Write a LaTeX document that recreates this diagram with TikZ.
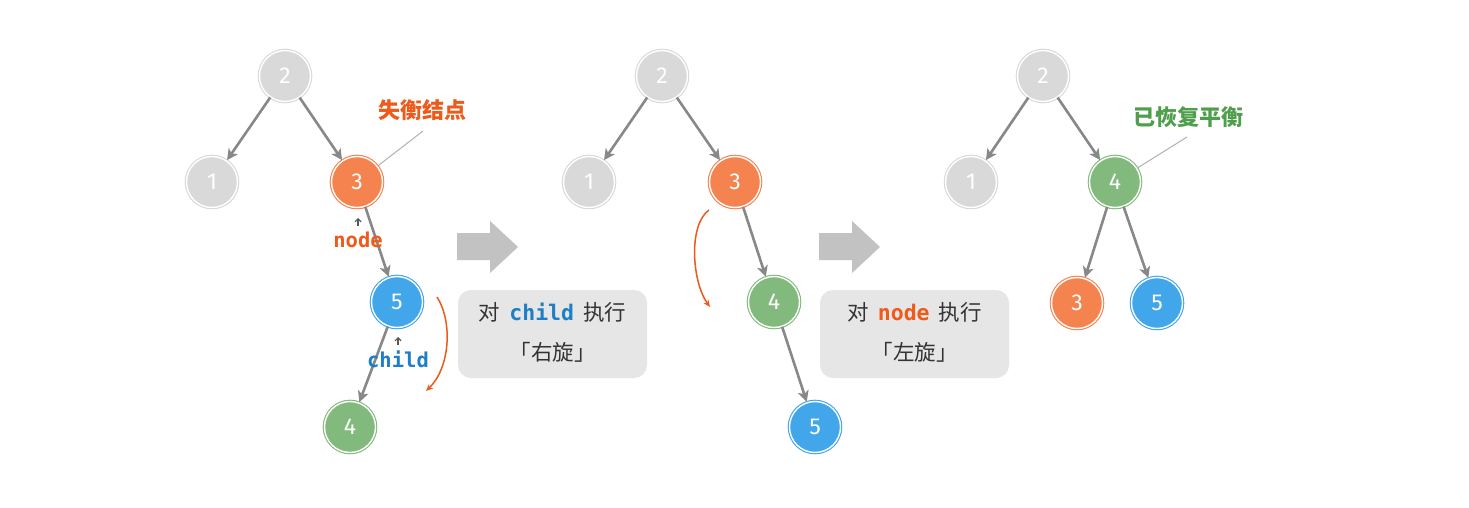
\documentclass[tikz,border=0pt]{standalone}
\usepackage{fontspec}
\setmainfont{Fira Sans}
\setmonofont{DejaVu Sans Mono}
\newfontfamily\cjk{Noto Sans CJK SC}
\usetikzlibrary{arrows.meta}
\definecolor{cgray}{HTML}{D9D9D9}
\definecolor{corange}{HTML}{F5834F}
\definecolor{cblue}{HTML}{42A6EA}
\definecolor{cgreen}{HTML}{82BA7D}
\definecolor{edgec}{HTML}{888888}
\definecolor{lorange}{HTML}{EE5A1A}
\definecolor{lgreen}{HTML}{4E9E4C}
\definecolor{lblue}{HTML}{1E7FC6}
\definecolor{boxc}{HTML}{E6E6E6}
\definecolor{bigarrow}{HTML}{C2C2C2}
\tikzset{
  tnode/.style={circle, minimum size=51pt, inner sep=0pt, fill=#1, draw=#1, double=white, double distance=1.4pt, line width=1.1pt, text=white, font=\fontsize{23}{23}\selectfont},
  edge/.style={draw=edgec, line width=2.6pt, -{Stealth[length=11pt,width=11pt,inset=3pt]}, shorten >=0.5pt},
  leader/.style={draw=gray!60, line width=1pt},
  rot/.style={draw=lorange, line width=1.5pt, -{Stealth[length=7pt,width=6pt]}},
  caret/.style={draw=gray!70!black, line width=1.2pt, -{Straight Barb[length=3pt,width=6pt]}},
  opbox/.style={fill=boxc, rounded corners=13pt, draw=none},
  boxtext/.style={text=black!80, font=\fontsize{21.5}{21.5}\selectfont\cjk},
  lab/.style={font=\fontsize{22}{22}\selectfont\cjk\bfseries},
  codelab/.style={font=\fontsize{20.5}{20.5}\selectfont\ttfamily\bfseries}
}
\begin{document}
\begin{tikzpicture}[x=1pt,y=-1pt]
\useasboundingbox[fill=white] (0,0) rectangle (1469,508);
% ---- tree 1
\node[tnode=cgray] (a2) at (285,76) {2};
\node[tnode=cgray] (a1) at (212,182) {1};
\node[tnode=corange] (a3) at (357,182) {3};
\node[tnode=cblue] (a5) at (397,302) {5};
\node[tnode=cgreen] (a4) at (350,427) {4};
\draw[edge] (a2) -- (a1);
\draw[edge] (a2) -- (a3);
\draw[edge] (a3) -- (a5);
\draw[edge] (a5) -- (a4);
\node[lab, text=lorange] (la) at (422,110) {失衡结点};
\coordinate (la0) at (423,131);
\draw[leader] (la0) -- (a3);
\node[codelab, text=lorange] (nodelab) at (358,240) {node};
\coordinate (c1a) at (358,226);
\coordinate (c1b) at (358,218);
\draw[caret] (c1a) -- (c1b);
\node[codelab, text=lblue] (childlab) at (398,359) {child};
\coordinate (c2a) at (398,345);
\coordinate (c2b) at (398,337);
\draw[caret] (c2a) -- (c2b);
\coordinate (r1s) at (437,297);
\coordinate (r1e) at (426,391);
\draw[rot] (r1s) .. controls (453,322) and (450,368) .. (r1e);
% ---- arrow + box 1
\fill[bigarrow] (457,233) -- (490,233) -- (490,221) -- (518,247) -- (490,273) -- (490,260) -- (457,260) -- cycle;
\draw[opbox] (458,290) rectangle (647,378);
\node[boxtext] (b1a) at (552.5,312) {对\hspace{9pt}{\ttfamily\bfseries\color{lblue}child}\hspace{9pt}执行};
\node[boxtext] (b1b) at (552.5,352) {「右旋」};
% ---- tree 2
\node[tnode=cgray] (b2) at (662,76) {2};
\node[tnode=cgray] (b1) at (589,182) {1};
\node[tnode=corange] (b3) at (735,182) {3};
\node[tnode=cgreen] (b4) at (774,302) {4};
\node[tnode=cblue] (b5) at (815,427) {5};
\draw[edge] (b2) -- (b1);
\draw[edge] (b2) -- (b3);
\draw[edge] (b3) -- (b4);
\draw[edge] (b4) -- (b5);
\coordinate (r2s) at (709,210);
\coordinate (r2e) at (710,307);
\draw[rot] (r2s) .. controls (688,225) and (692,282) .. (r2e);
% ---- arrow + box 2
\fill[bigarrow] (819,233) -- (852,233) -- (852,221) -- (880,247) -- (852,273) -- (852,260) -- (819,260) -- cycle;
\draw[opbox] (820,290) rectangle (1009,378);
\node[boxtext] (b2a) at (914.5,312) {对\hspace{9pt}{\ttfamily\bfseries\color{lorange}node}\hspace{9pt}执行};
\node[boxtext] (b2b) at (914.5,352) {「左旋」};
% ---- tree 3
\node[tnode=cgray] (c2) at (1043,76) {2};
\node[tnode=cgray] (c1) at (971,182) {1};
\node[tnode=cgreen] (c4) at (1115,182) {4};
\node[tnode=corange] (c3) at (1077,303) {3};
\node[tnode=cblue] (c5) at (1157,303) {5};
\draw[edge] (c2) -- (c1);
\draw[edge] (c2) -- (c4);
\draw[edge] (c4) -- (c3);
\draw[edge] (c4) -- (c5);
\node[lab, text=lgreen] (lc) at (1188,117) {已恢复平衡};
\coordinate (lc0) at (1187,137);
\draw[leader] (lc0) -- (c4);
\end{tikzpicture}
\end{document}
